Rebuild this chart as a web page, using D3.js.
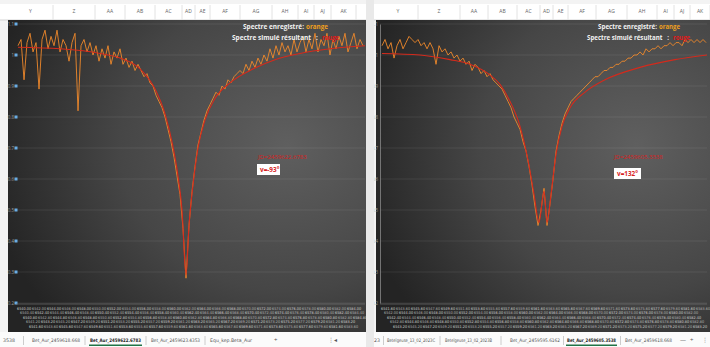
<!DOCTYPE html>
<html><head><meta charset="utf-8">
<script src="https://cdn.jsdelivr.net/npm/d3@7"></script>
<style>body{margin:0;background:#fff;overflow:hidden}svg{display:block}</style>
</head><body><svg id="c" width="710" height="347"></svg>
<script>
// ---------------- DATA ----------------
const yTicks = [1.1, 1.0, 0.9, 0.8, 0.7, 0.6, 0.5, 0.4, 0.3, 0.2];
const yTickLabels = ["1.1", "1", "0.9", "0.8", "0.7", "0.6", "0.5", "0.4", "0.3", "0.2"];
const columnLetters = ["Y", "Z", "AA", "AB", "AC", "AD", "AE", "AF", "AG", "AH", "AI", "AJ", "AK"];
const legendRecorded = ["Spectre enregistré:", "orange"];
const legendSimulated = ["Spectre simulé résultant   :", "rouge"];

// left chart : JD 2459622.6783
const leftJD = "JD=2459622.6783";
const leftV = "v=-93°";
const leftStartWl = 6540.0, leftStepWl = 0.4;
const leftObserved = [
 1.03,1.05,0.92,1.04,1.07,1.01,1.04,0.89,1.05,1.08,1.02,1.06,1.03,1.08,1.01,1.05,1.03,0.98,1.04,1.07,
 0.82,1.03,1.05,1.01,1.04,1.00,1.03,0.98,1.02,0.99,1.03,0.97,1.01,0.99,1.02,0.97,0.99,0.96,0.98,0.95,
 0.97,0.95,0.93,0.94,0.91,0.90,0.87,0.85,0.83,0.80,0.76,0.72,0.67,0.61,0.55,0.44,0.28,0.45,0.56,0.64,
 0.71,0.75,0.79,0.82,0.84,0.86,0.88,0.87,0.90,0.89,0.92,0.91,0.93,0.94,0.95,0.94,0.97,0.95,0.98,0.96,
 0.99,0.97,1.00,0.98,1.02,0.99,1.03,1.00,1.04,1.01,1.03,1.00,1.05,1.01,1.04,1.06,1.01,1.05,1.02,1.07,
 1.01,1.05,1.03,1.07,1.00,1.05,1.02,1.06,1.03,1.07,1.01,1.04,1.07,1.02,1.05,1.03];
const leftFitWl = [6540,6545.6,6550.93,6553.6,6556.27,6558.27,6559.6,6560.53,6561.33,6561.87,6562.4,6562.8,6563.33,6564,6564.93,6566.27,6568.27,6570.93,6574.27,6577.6,6581.6,6586.27];
const leftFitVal = [1.025,1.02,1.005,0.99,0.955,0.89,0.81,0.72,0.61,0.50,0.29,0.45,0.58,0.70,0.79,0.86,0.91,0.95,0.985,1.005,1.02,1.03];
const leftTabs = ["3538", "Bet_Aur_2459618.668", "Bet_Aur_2459622.6783", "Bet_Aur_2459623.4353", "Equ_kep.Beta_Aur"];
const leftActiveTab = 2;

// right chart : JD 2459605.3538
const rightJD = "JD=2459605.3538";
const rightV = "v=132°";
const rightStartWl = 6541.6, rightStepWl = 0.4;
const rightObserved = [
 1.03,1.05,1.02,1.04,0.99,1.03,1.05,1.02,1.04,1.06,1.05,1.04,1.05,1.03,1.04,1.02,1.04,1.02,0.97,1.03,
 1.01,1.02,1.00,1.01,0.99,1.00,0.98,0.99,0.97,0.98,0.95,0.97,0.96,0.94,0.95,0.93,0.94,0.92,0.91,0.90,
 0.89,0.87,0.85,0.83,0.80,0.78,0.76,0.72,0.69,0.64,0.58,0.51,0.45,0.50,0.57,0.45,0.52,0.60,0.69,0.74,
 0.78,0.81,0.83,0.85,0.86,0.87,0.88,0.89,0.90,0.91,0.92,0.93,0.93,0.94,0.95,0.95,0.96,0.96,0.97,0.97,
 0.98,0.98,0.99,0.99,1.00,1.00,1.01,1.00,1.02,1.01,1.02,1.02,1.03,1.02,1.03,1.03,1.04,1.03,1.04,1.04,
 1.03,1.05,1.04,1.05,1.04,1.05,1.04,1.05,1.04];
const rightFitWl = [6541.6,6546.67,6550.67,6553.33,6556,6557.33,6558.67,6560,6561.07,6561.87,6562.53,6563.2,6563.6,6564.13,6564.8,6565.6,6566.67,6568.67,6571.33,6576,6580.67,6584.93];
const rightFitVal = [1.005,1.0,0.985,0.97,0.935,0.905,0.85,0.77,0.66,0.55,0.46,0.56,0.46,0.55,0.68,0.77,0.83,0.88,0.92,0.96,0.985,1.0];
const rightTabs = ["23", "Betelgeuse_13_02_2023C", "Betelgeuse_13_02_2023B", "Bet_Aur_2459595.6162", "Bet_Aur_2459605.3538", "Bet_Aur_2459618.668"];
const rightActiveTab = 4;

// ---------------- LAYOUT ----------------
const svg = d3.select("#c");
const defs = svg.append("defs");
const grad = defs.append("radialGradient").attr("id","bg").attr("cx","0.78").attr("cy","0.4").attr("r","0.85");
grad.append("stop").attr("offset","0").attr("stop-color","#5f5f5f");
grad.append("stop").attr("offset","0.55").attr("stop-color","#464646");
grad.append("stop").attr("offset","1").attr("stop-color","#242424");

const FONT = "'Open Sans', 'DejaVu Sans', sans-serif";
const COND = "'DejaVu Sans Condensed', 'Liberation Sans Narrow', sans-serif";

// text squeezed horizontally to a target width with a transform (real glyph box follows)
function fitText(g, str, x, y, len, size, color) {
  const t = g.append("text").attr("x", 0).attr("y", 0)
    .attr("font-family", FONT).attr("font-weight", "bold").attr("font-size", size).attr("fill", color)
    .attr("xml:space", "preserve").text(str);
  const natural = t.node().getComputedTextLength() || len;
  t.attr("transform", `translate(${x},${y}) scale(${len / natural},1)`);
  return t;
}

function panel(cfg) {
  const g = svg.append("g");
  g.append("rect").attr("x", cfg.winX0).attr("y", 0).attr("width", cfg.winX1 - cfg.winX0).attr("height", 347).attr("fill", "#f3f3f3");
  g.append("rect").attr("x", cfg.winX0).attr("y", 4).attr("width", cfg.winX1 - cfg.winX0).attr("height", 16).attr("fill", "#ffffff");
  g.append("line").attr("x1", cfg.winX0).attr("x2", cfg.winX1).attr("y1", 20).attr("y2", 20).attr("stroke", "#d4d4d4");
  columnLetters.forEach((c, i) => {
    const w = cfg.colW[i];
    const x0 = cfg.colX0 + d3.sum(cfg.colW.slice(0, i));
    g.append("text").attr("x", x0 + w / 2).attr("y", 13).attr("text-anchor", "middle")
      .attr("font-family", FONT).attr("font-size", 5).attr("fill", "#666").text(c);
    g.append("line").attr("x1", x0 + w).attr("x2", x0 + w).attr("y1", 5).attr("y2", 20).attr("stroke", "#e2e2e2");
  });
  g.append("rect").attr("x", cfg.chartX0).attr("y", cfg.chartY0).attr("width", cfg.chartX1 - cfg.chartX0)
    .attr("height", cfg.chartY1 - cfg.chartY0).attr("fill", "url(#bg)");

  const x = d3.scaleLinear().domain(cfg.xDomain).range([cfg.plotX0, cfg.plotX1]);
  const y = d3.scaleLinear().domain([0.2, 1.1]).range([303, 24]);

  g.append("g").selectAll("line").data(yTicks).join("line")
    .attr("x1", cfg.plotX0).attr("x2", cfg.plotX1).attr("y1", d => y(d)).attr("y2", d => y(d))
    .attr("stroke", "rgba(255,255,255,0.10)").attr("stroke-width", 0.8);
  const yAxis = d3.axisLeft(y).tickValues(yTicks).tickFormat((d, i) => yTickLabels[i]).tickSize(0).tickPadding(2);
  const ya = g.append("g").attr("transform", `translate(${cfg.plotX0},0)`).call(yAxis);
  ya.select(".domain").attr("stroke", cfg.axisLine).attr("stroke-width", 0.8);
  ya.selectAll("text").attr("font-family", FONT).attr("font-size", 4.5).attr("fill", "#9a9a9a");
  if (cfg.markers) {
    g.append("g").selectAll("rect").data(yTicks).join("rect")
      .attr("x", cfg.plotX0 - 1.5).attr("y", d => y(d) - 1.5).attr("width", 3).attr("height", 3)
      .attr("fill", "#6aaee6");
  }

  // x axis : dense category labels, staggered on 5 rows
  const wl = cfg.observed.map((v, i) => cfg.startWl + i * cfg.stepWl);
  const labels = wl.map((d, i) => ({ d, i })).filter(o => x(o.d) + 12 < cfg.chartX1);
  const xa = g.append("g");
  xa.selectAll("text").data(labels).join("text")
    .attr("x", o => x(o.d) - 1).attr("y", o => 309.5 + (o.i % 5) * 4.5)
    .attr("font-family", COND).attr("font-size", 3.8)
    .attr("fill", o => (o.i % 2 ? "#b0b0b0" : "#cfcfcf"))
    .text(o => o.d.toFixed(2));
  xa.append("line").attr("x1", cfg.plotX0).attr("x2", cfg.plotX1).attr("y1", 304).attr("y2", 304).attr("stroke", "#777").attr("stroke-width", 0.6);

  const line = d3.line().x(d => x(d[0])).y(d => y(d[1]));
  g.append("path").datum(wl.map((w, i) => [w, cfg.observed[i]]))
    .attr("d", line).attr("fill", "none").attr("stroke", "#f0892a").attr("stroke-width", 0.9);
  g.append("path").datum(cfg.fitWl.map((w, i) => [w, cfg.fitVal[i]]))
    .attr("d", line.curve(d3.curveMonotoneX)).attr("fill", "none").attr("stroke", "#d42a1c").attr("stroke-width", 1.1);

  // legend (each coloured word is its own text)
  fitText(g, legendRecorded[0], cfg.leg1[0], 29, cfg.leg1[1], 7.2, "#f2f2f2");
  fitText(g, legendRecorded[1], cfg.leg1[2], 29, cfg.leg1[3], 7.2, "#f0a020");
  fitText(g, legendSimulated[0], cfg.leg2[0], 40, cfg.leg2[1], 7.2, "#f2f2f2");
  fitText(g, legendSimulated[1], cfg.leg2[2], 40, cfg.leg2[3], 7.2, "#e01818");

  // annotations
  g.append("text").attr("x", cfg.jdX).attr("y", 159).attr("font-family", FONT).attr("font-size", 6)
    .attr("fill", "#d81e1e").text(cfg.jd);
  g.append("rect").attr("x", cfg.vX).attr("y", cfg.vY).attr("width", cfg.vW).attr("height", 11).attr("fill", "#fff");
  g.append("text").attr("x", cfg.vX + 3).attr("y", cfg.vY + 8).attr("font-family", FONT).attr("font-weight", "bold")
    .attr("font-size", 6.4).attr("fill", "#d81e1e").text(cfg.v);

  // sheet tabs
  g.append("rect").attr("x", cfg.winX0).attr("y", cfg.chartY1).attr("width", cfg.winX1 - cfg.winX0).attr("height", 347 - cfg.chartY1).attr("fill", "#fbfbfb");
  cfg.tabs.forEach((t, i) => {
    const tx = cfg.tabX[i];
    const active = i === cfg.active;
    g.append("text").attr("x", tx).attr("y", 342).attr("font-family", COND).attr("font-size", 4.8)
      .attr("font-weight", active ? "bold" : "normal").attr("fill", active ? "#222" : "#555")
      .attr("textLength", cfg.tabW[i]).attr("lengthAdjust", "spacingAndGlyphs").text(t);
    if (active) {
      g.append("rect").attr("x", tx - 1).attr("y", 344.5).attr("width", cfg.tabW[i] + 2).attr("height", 1.5).attr("fill", "#217346");
    }
    if (i < cfg.tabs.length - 1) {
      const sx = (tx + cfg.tabW[i] + cfg.tabX[i + 1]) / 2;
      g.append("line").attr("x1", sx).attr("x2", sx).attr("y1", 336).attr("y2", 345).attr("stroke", "#ccc");
    }
  });
  cfg.extras.forEach(e => {
    g.append("text").attr("x", e[1]).attr("y", 342).attr("font-family", FONT).attr("font-size", 6).attr("fill", "#555").text(e[0]);
  });
}

panel({
  winX0: 0, winX1: 368, colX0: 8, colX1: 366,
  colW: [45, 42, 30, 30, 27, 13, 15, 30, 32, 26, 16, 17, 25],
  chartX0: 8, chartX1: 366, chartY0: 20, chartY1: 332,
  plotX0: 16, plotX1: 365, xDomain: [6539.73, 6586.27],
  observed: leftObserved, startWl: leftStartWl, stepWl: leftStepWl,
  fitWl: leftFitWl, fitVal: leftFitVal, axisLine: "none", markers: true,
  leg1: [243, 61, 306, 22], leg2: [232, 86, 322, 17],
  jd: leftJD, jdX: 258, v: leftV, vX: 257, vY: 164, vW: 23,
  tabs: leftTabs, active: leftActiveTab, tabX: [3, 32, 90, 151, 210], tabW: [12, 48, 51, 49, 42],
  extras: [["+", 274], ["⋮", 328], ["◂", 334]]
});
panel({
  winX0: 372, winX1: 710, colX0: 378, colX1: 710,
  colW: [40, 42, 28, 29, 23, 13, 15, 28, 31, 30, 17, 16, 20],
  chartX0: 376, chartX1: 710, chartY0: 20, chartY1: 332,
  plotX0: 380, plotX1: 707, xDomain: [6541.33, 6584.93],
  observed: rightObserved, startWl: rightStartWl, stepWl: rightStepWl,
  fitWl: rightFitWl, fitVal: rightFitVal, axisLine: "#888", markers: false,
  leg1: [598, 59, 659, 21], leg2: [587, 82, 673, 17],
  jd: rightJD, jdX: 614, v: rightV, vX: 614, vY: 168, vW: 27,
  tabs: rightTabs, active: rightActiveTab, tabX: [374, 387, 445, 510, 567, 625], tabW: [6, 48, 47, 50, 49, 47],
  extras: [["—", 680], ["+", 690], ["⋮", 702]]
});
svg.append("rect").attr("x", 366).attr("y", 0).attr("width", 8).attr("height", 347).attr("fill", "#e9e9e9");
</script></body></html>
